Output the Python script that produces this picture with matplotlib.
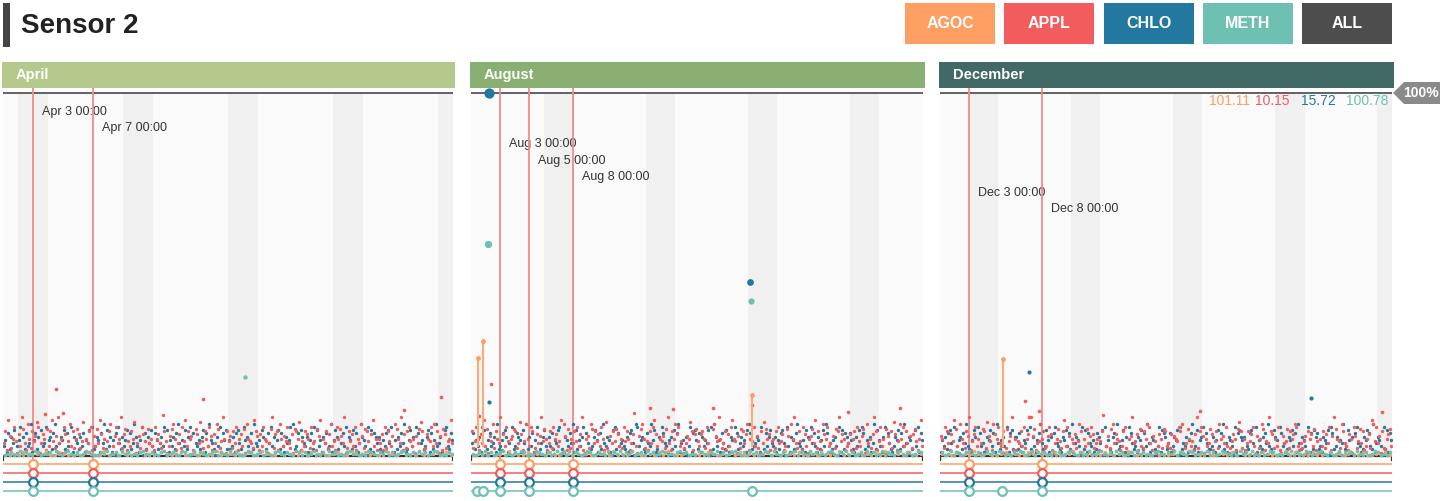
import datetime as dt

import matplotlib.pyplot as plt
import numpy as np
from matplotlib.patches import Rectangle, Polygon

plt.rcParams['font.family'] = ['Liberation Sans', 'DejaVu Sans']

W, H = 1440, 501

SERIES = ['AGOC', 'APPL', 'CHLO', 'METH']
COLORS = {'AGOC': '#fd9e63', 'APPL': '#f25c5c', 'CHLO': '#23789f', 'METH': '#6ec1b2'}
BUTTONS = ['AGOC', 'APPL', 'CHLO', 'METH', 'ALL']
BUTTON_COLORS = ['#fd9e63', '#f25c5c', '#23789f', '#6ec1b2', '#4d4d4d']

YEAR = 2016
MONTHS = ['April', 'August', 'December']
MONTH_NUM = [4, 8, 12]
MONTH_DAYS = [30, 31, 31]
HEADER_COLORS = ['#b5c98c', '#8aaf72', '#416966']

# events: offset in days from the month start
EVENT_DAYS = [[2, 6], [2, 4, 7], [2, 7]]
EVENT_LABELS = [['Apr 3 00:00', 'Apr 7 00:00'],
                ['Aug 3 00:00', 'Aug 5 00:00', 'Aug 8 00:00'],
                ['Dec 3 00:00', 'Dec 8 00:00']]

MAX_VALUES = [101.11, 10.15, 15.72, 100.78]

# dense readings, one letter per sample ('a' = 0)
APPL_STEP, CHLO_STEP, LOW_STEP = 0.0065, 0.0085, 0.004
APPL_APR = ("fkcpidhmgbjeqlfcnhdkgiombfjhclekpgdiqfhbmjcgnekdhl"
            "jdgobhfkmcielfpjdhcgknbeimfhqdjlcgekhobfidmjgclfhe"
            "cmhjfdrkgbeilnhcfjdmgpekhicbljfogdkhemicjfnldgqhbk"
            "gidkfmchjelbnhgfdpkicjemhgbflqdjkcnheigmfdjblkhocg"
            "ekjhdmfgclipbhfkdjnegcmhlifqbdkgjemchfnidlkgbjpehc"
            "hfjcmdkgeibnlhfqcjdkmgehbiflokcdjhgmenfkbicljdghpf")
APPL_AUG = ("kdgmhcjfpelbigndkhfqcjemgbhilkdfojcgnhemkbdjfiqglh"
            "cfkdmhjegpbnicldhfkgmejqcbhidnlfkgjemhcodbifkgljeh"
            "dmgkhcfjsebilnhdgckfmpjebhgidlqfckhnjmegbdfihokcjl"
            "gejkhdmfcblnigqhdfkcjemphgbidlkfjnchgmeidbkfolhjcg"
            "hdkmfgjcelibnhqfdkgcmjebhilfpdkgcnjhmefbidlkqgjhce"
            "fjchkdmgeilbnfhdjqkcgmehblifkdojcgnhmekfbidjlgchpe")
APPL_DEC = ("ihdmkfcjgplebnhfdkiqcgjmehbflkdoigcnjhmfekbdlgiqch"
            "cgfkemdhjbqilcfgnhkdeimjcbfhlgdkpemichfjdgnkbhelfi"
            "mjdfhcgkrbeidlnfjhgcekmdbhiqfgjcledkhnmfcigbejhdlk"
            "efdjcihgmknbdflhegcjqdkmibhefljcgkdnhifmebdgjhclok"
            "dhcfkgjmebidhnlcgfqkjdhemcbifgldkhjnmecfdgibkhjelc"
            "gbhekdjfmciqlhgdnkfecjhbmidglfkcehjdpngmfibkdchjle")
CHLO_APR = ("dfbhcgeiadfjbgchdekbfhcgaidejbfgchkdbegfichdajbgfe"
            "cgdhbfeiajcdgfbhekcidgbfahjecgdfibhcekgdbfjahcgeid"
            "bhfcegdjaibfdgchkebfdicgjahbedfcgibhdkfecagdjbhfic"
            "fcdgbhiecajfgdbhckedfbigachejdgbfichdbgefjakcdhbig"
            "edgbfhcjaidfbgehcdkbfigcaehdjbgfcidhbekgfdajcibhge"
            "gcbfdhiejabfcgdhekbcfidgajhbefcdgibhcfkdegbaijdchf")
CHLO_AUG = ("ehcfdgbjiacfhdegbkcdfhigbeajcdhgfbiekcgdhbfjacegid"
            "bgdhcfeijacbgfdhekbicfdgjahebcdgifbhckedgfbaijchde"
            "fdcgbhieakjdfgcbhedkfibcgajhedbfgcidhkbefcgadjbhif"
            "chbgdfeiajckgdfbhecidbgfajhcegdfbikhcdegfbjachdgie"
            "dgbfchieajdbgfchkedcfbigajehdbgcfidkhbecfgdajbichg"
            "ehfcbgdiajhcfdgbekcifdbgjahecbdgfichdkebgfcaidjbhf")
CHLO_DEC = ("bfdgchieajbdfgchekdcbfigajhdebcgfidhbkecfgdajbhicg"
            "gchdbfeiajcgdbfhkecdifbgahjedcbgfidhckbegfdajcibhe"
            "dfbchgeiajdfcbghekcdfibgajhecdbgfichdkebgfcadjbihg"
            "cehbdgfiajcedgbfhkcdibfgjaheccdgbfidhkcebgfdajbhig"
            "fgbdchieajbfdcghekdcbigfajhdebcgfidhbkecgfdajbhcig"
            "hcdbgfeiajhcdgbfekcdifbgahjedbcgfihdckbegfdajcibhf")
METH_APR = ("abcabdacbadcabbcadbacdbacabdcbaacbdabcadbcabacdbac"
            "bacdabcbadcabdacbabcdacbadbcaabdcabcadbacdbacbadca"
            "cabdbacadbcabacdbcabadcbacbdacabcdbacadbcabdcabacb")
METH_AUG = ("bacbdacabcdabacbdcabadcbacabdbcadacbabdcabcbadacbd"
            "acbdabcadbcabdcabacdbcabadcbacbdacabcdbacadbcabdca"
            "dbacabcdacbadbcabacdbacbdacabcadbcabdacbacdbacabdc")
METH_DEC = ("cabdacbacdbacabdbcadcabacbdcabdacbcabdacabcdbacabd"
            "abcdbacadbcabcadbcabacdbacbdacbadcabcbdacabdcbacad"
            "bcadbacabdcabacbdacbadcabcdbacabdacbcadbacabdcabac")
AGOC_APR = ("aabacabbadaacbaabacbaadabacaabcabaadbaacabbacaadab"
            "babacaadbaacabbadacabaabcaadbacabaacbadabacaabdaca")
AGOC_AUG = ("abaacabadbaacabbacaadbacabaabcadabacbaabacadbaacab"
            "aacbabadacabaabcabadbacaabacbaadabcaabacadbabacaab")
AGOC_DEC = ("baacabadbacaabcabaacbdabacaabdacabaacbabadcaabacab"
            "abacadbaacabbacadabaacbaabdacabacaabcabadbacaabaca")

DENSE = [
    {'AGOC': AGOC_APR, 'APPL': APPL_APR, 'CHLO': CHLO_APR, 'METH': METH_APR},
    {'AGOC': AGOC_AUG, 'APPL': APPL_AUG, 'CHLO': CHLO_AUG, 'METH': METH_AUG},
    {'AGOC': AGOC_DEC, 'APPL': APPL_DEC, 'CHLO': CHLO_DEC, 'METH': METH_DEC},
]
STEPS = {'AGOC': LOW_STEP, 'APPL': APPL_STEP, 'CHLO': CHLO_STEP, 'METH': LOW_STEP}

# isolated readings: (day offset, fraction of 100%)
APPL_OUT = [[(3.53, 0.182), (4.0, 0.116), (2.8, 0.113), (13.33, 0.155), (29.2, 0.160), (26.73, 0.124)],
            [(1.37, 0.196), (12.28, 0.130), (13.85, 0.127), (16.6, 0.130), (29.4, 0.130),
             (25.86, 0.119), (19.27, 0.138), (0.55, 0.108)],
            [(5.83, 0.149), (17.83, 0.122), (30.3, 0.119), (6.79, 0.122), (6.1, 0.105)]]
CHLO_OUT = [[], [(1.23, 0.146)], [(6.1, 0.229), (25.45, 0.157)]]
BIG_POINTS = [[('METH', 16.1, 0.215, 10)],
              [('CHLO', 1.26, 1.0, 55), ('METH', 1.17, 0.583, 28),
               ('CHLO', 19.14, 0.478, 24), ('METH', 19.2, 0.425, 20)],
              []]
AGOC_STEMS = [[], [(0.46, 0.268), (0.84, 0.316), (19.27, 0.166)], [(4.3, 0.264)]]
METH_MARKS = [[], [0.39, 0.84, 19.25], [4.27]]

# layout in pixels
PANEL_X = [(3, 453), (471, 923), (940, 1392)]
TOP, BOT, AX_TOP, AX_BOT = 93, 455, 88, 498
SPAN = BOT - TOP
LINE_Y = [464, 473, 482, 491]


def v_of(y):
    return (BOT - y) / SPAN


def decode(s, step):
    return np.array([ord(c) - ord('a') for c in s]) * step


fig = plt.figure(figsize=(W / 100, H / 100), dpi=100)


def rect(x, y, w, h, color, **kw):
    fig.add_artist(Rectangle((x / W, 1 - (y + h) / H), w / W, h / H,
                             transform=fig.transFigure, color=color, lw=0, **kw))


# title + buttons
rect(3, 3, 7, 44, '#444444')
fig.text(21 / W, 1 - 26 / H, 'Sensor 2', fontsize=20, fontweight='bold', color='#222222', va='center')
for i, (name, c) in enumerate(zip(BUTTONS, BUTTON_COLORS)):
    bx = 905 + i * 99.3
    rect(bx, 3, 90, 41, c)
    fig.text((bx + 45) / W, 1 - 24 / H, name, fontsize=11.5, fontweight='bold', color='white',
             ha='center', va='center')

k = 0
for p, month in enumerate(MONTHS):
    x0, x1 = PANEL_X[p]
    nd = MONTH_DAYS[p]
    rect(x0 - 1, 62, x1 - x0 + 3, 26, HEADER_COLORS[p])
    fig.text((x0 + 13) / W, 1 - 75 / H, month, fontsize=10.5, fontweight='bold', color='white', va='center')

    ax = fig.add_axes([x0 / W, 1 - AX_BOT / H, (x1 - x0) / W, (AX_BOT - AX_TOP) / H])
    ax.set_xlim(0, nd)
    ax.set_ylim(v_of(AX_BOT), v_of(AX_TOP))
    ax.axis('off')

    ax.fill_between([0, nd], 0, 1, color='#fafafa', lw=0, zorder=0)
    for d in range(nd):
        if dt.date(YEAR, MONTH_NUM[p], d + 1).weekday() >= 5:
            ax.fill_between([d, d + 1], 0, 1, color='#f0f0f0', lw=0, zorder=0)

    ax.plot([0, nd], [1, 1], color='#555555', lw=1.3, zorder=3)
    yb, yt = v_of(456), v_of(460)
    ax.plot([0, 0, nd, nd], [yt, yb, yb, yt], color='#333333', lw=1.6, zorder=3)

    for s, ly in zip(SERIES, LINE_Y):
        ax.plot([0, nd], [v_of(ly), v_of(ly)], color=COLORS[s], lw=1.1, zorder=2)

    # event lines and labels
    for d, lab in zip(EVENT_DAYS[p], EVENT_LABELS[p]):
        ax.plot([d, d], [v_of(AX_TOP), v_of(LINE_Y[0])], color='#f28a8a', lw=1.3, zorder=4)
        ax.annotate(lab, xy=(d, v_of(112 + 16.2 * k)), xytext=(9, 0), textcoords='offset pixels',
                    fontsize=9, color='#333333', va='center', zorder=1)
        k += 1
        for s, ly in zip(SERIES, LINE_Y):
            ax.plot(d, v_of(ly), 'o', ms=6.3, mfc='white', mec=COLORS[s], mew=1.6, zorder=6)
    for d in METH_MARKS[p]:
        ax.plot(d, v_of(LINE_Y[3]), 'o', ms=6.3, mfc='white', mec=COLORS['METH'], mew=1.6, zorder=6)

    # dense readings
    for s in ['CHLO', 'APPL', 'AGOC', 'METH']:
        vals = decode(DENSE[p][s], STEPS[s])
        xs = (np.arange(len(vals)) + 0.5) * nd / len(vals)
        ax.scatter(xs, vals, s=7 if s == 'METH' else 6, color=COLORS[s], lw=0, zorder=5)

    for d, v in APPL_OUT[p]:
        ax.scatter(d, v, s=7, color=COLORS['APPL'], lw=0, zorder=5)
    for d, v in CHLO_OUT[p]:
        ax.scatter(d, v, s=9, color=COLORS['CHLO'], lw=0, zorder=5)
    for s, d, v, sz in BIG_POINTS[p]:
        ax.scatter(d, v, s=sz, color=COLORS[s], lw=0, zorder=7, clip_on=False)
    for d, v in AGOC_STEMS[p]:
        ax.plot([d, d], [v_of(446), v], color='#fdaa78', lw=1.5, zorder=5)
        ax.scatter(d, v, s=12, color='#fd9e63', lw=0, zorder=6)

# 100% tag and max values
fig.add_artist(Polygon([(1393 / W, 1 - 93 / H), (1404 / W, 1 - 82 / H), (1440 / W, 1 - 82 / H),
                        (1440 / W, 1 - 104 / H), (1404 / W, 1 - 104 / H)],
                       closed=True, transform=fig.transFigure, color='#8a8a8a', lw=0))
fig.text(1421 / W, 1 - 93 / H, '100%', fontsize=10, fontweight='bold', color='white', ha='center', va='center')
for s, val, vx in zip(SERIES, MAX_VALUES, [1250, 1289, 1336, 1388]):
    fig.text(vx / W, 1 - 101 / H, f'{val:.2f}', fontsize=10, color=COLORS[s], ha='right', va='center')

fig.savefig('out.png', dpi=100)
